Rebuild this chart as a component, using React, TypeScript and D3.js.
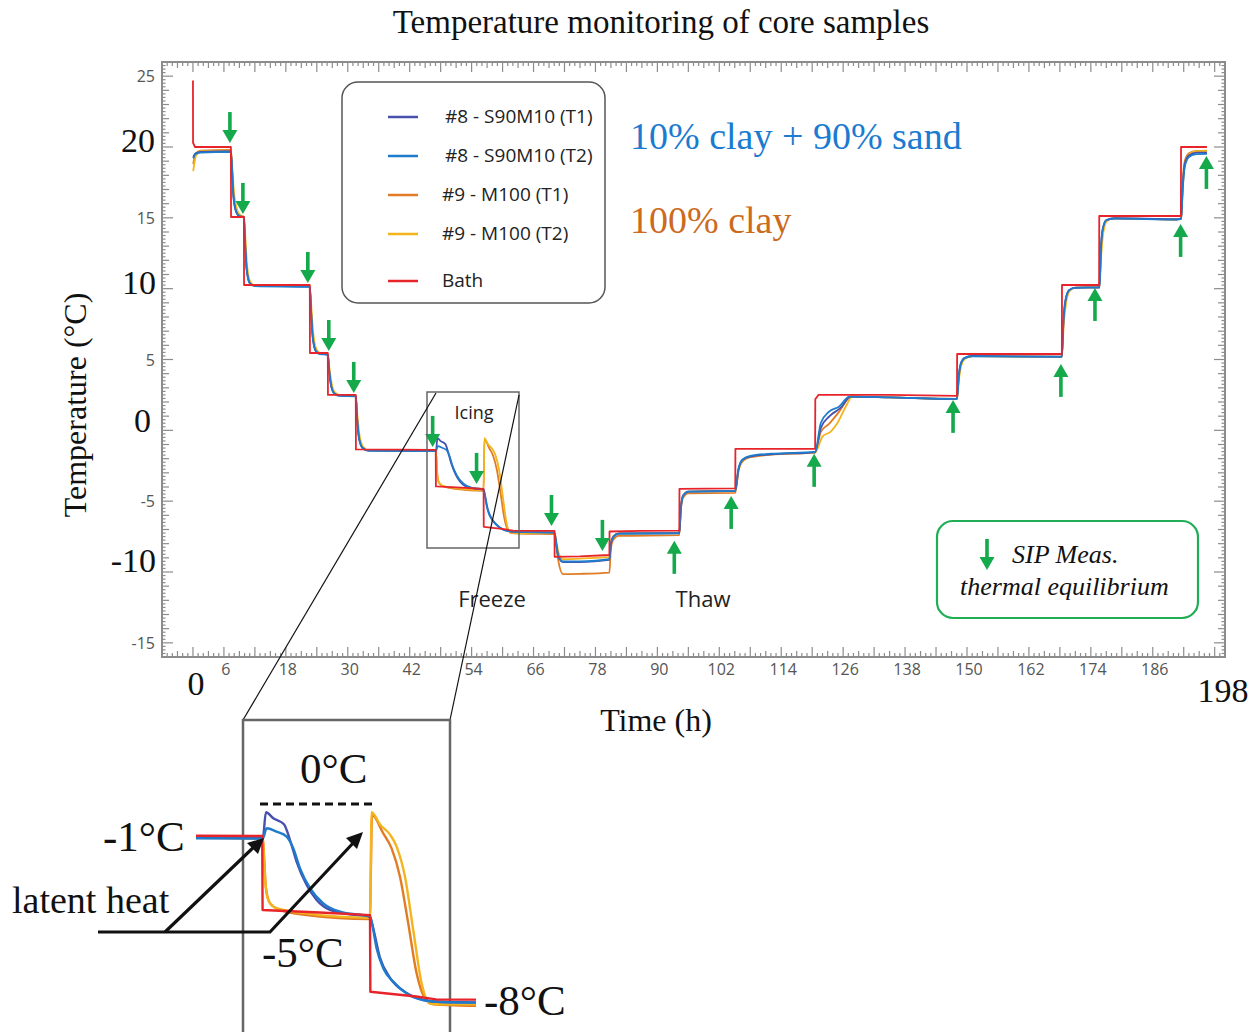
import React from 'react';
import * as d3 from 'd3';

type Pt = [number, number];

// ---------- DATA (time h, temperature °C) ----------
const bath: Pt[] = [
  [0, 24.7], [0.02, 20.3], [0.4, 20.0], [7.35, 20.0],
  [7.38, 15.06], [9.87, 15.06],
  [9.9, 10.26], [22.64, 10.26],
  [22.67, 5.46], [26.13, 5.46],
  [26.16, 2.5], [31.55, 2.5],
  [31.58, -1.35], [47.05, -1.38],
  [47.08, -3.96], [52, -4.05], [56.32, -4.14],
  [56.35, -6.81], [60.3, -6.98], [62, -7.08], [70.06, -7.1],
  [70.09, -8.93], [75, -8.9], [80.7, -8.8],
  [80.73, -7.14], [87, -7.1], [94.25, -7.08],
  [94.28, -4.13], [105.09, -4.1],
  [105.12, -1.31], [120.57, -1.3],
  [120.6, 2.2], [121.2, 2.5], [135, 2.5], [148.06, 2.43],
  [148.09, 5.39], [168.38, 5.39],
  [168.41, 10.26], [175.6, 10.26],
  [175.63, 15.13], [191.45, 15.13],
  [191.48, 20.0], [196.5, 20.0],
];

const s8T1: Pt[] = [
  [0.05, 19.3], [0.5, 19.55], [1.5, 19.65], [7.35, 19.7],
  [7.6, 18.2], [7.85, 16.5], [8.4, 15.4], [9.0, 15.12], [9.87, 15.05],
  [10.1, 13.2], [10.4, 11.4], [11.0, 10.4], [12, 10.2], [22.64, 10.15],
  [22.9, 8.3], [23.2, 6.6], [23.8, 5.6], [24.6, 5.4], [26.13, 5.35],
  [26.4, 4.2], [26.8, 3.1], [27.4, 2.6], [28.5, 2.45], [31.55, 2.42],
  [31.8, 0.9], [32.2, -0.6], [32.9, -1.25], [34, -1.42], [47.1, -1.45],
  [47.37, -0.55], [48.0, -0.76], [48.92, -0.97], [49.44, -1.52], [50.01, -2.28], [50.87, -3.09], [51.73, -3.61], [52.88, -3.96], [54.6, -4.11], [56.32, -4.19],
  [56.46, -4.37], [57.18, -5.63], [58.04, -6.33], [59.47, -6.86], [60.9, -7.1], [62.5, -7.17], [70.06, -7.2],
  [70.4, -8.0], [70.8, -8.9], [71.7, -9.3], [75, -9.3], [80.7, -9.15],
  [81.0, -8.0], [81.5, -7.5], [82.5, -7.28], [94.25, -7.25],
  [94.55, -5.5], [95.0, -4.6], [96, -4.32], [105.09, -4.27],
  [105.7, -2.8], [106.5, -2.1], [108, -1.85], [112, -1.7], [120.57, -1.55],
  [121.67, 0.17], [123.27, 0.97], [125.5, 1.58], [127.5, 2.38], [135, 2.32], [148.06, 2.22],
  [148.4, 3.8], [148.8, 4.7], [149.5, 5.1], [151, 5.25], [168.38, 5.2],
  [168.7, 7.8], [169.1, 9.2], [169.8, 9.9], [171, 10.08], [175.67, 10.1],
  [175.95, 12.8], [176.3, 14.2], [177, 14.85], [178.5, 14.97], [190.6, 14.9], [191.5, 14.95],
  [191.8, 17.2], [192.2, 18.8], [193, 19.4], [194.5, 19.6], [196.5, 19.6],
];

const s8T2: Pt[] = [
  [0.05, 19.2], [0.5, 19.5], [1.5, 19.6], [7.35, 19.65],
  [7.6, 18.2], [7.85, 16.5], [8.4, 15.4], [9.0, 15.1], [9.87, 15.03],
  [10.1, 13.2], [10.4, 11.4], [11.0, 10.38], [12, 10.18], [22.64, 10.12],
  [22.9, 8.3], [23.2, 6.6], [23.8, 5.6], [24.6, 5.38], [26.13, 5.33],
  [26.4, 4.2], [26.8, 3.1], [27.4, 2.58], [28.5, 2.43], [31.55, 2.4],
  [31.8, 0.9], [32.2, -0.6], [32.9, -1.27], [34, -1.44], [47.1, -1.47],
  [47.43, -1.11], [48.29, -1.23], [49.15, -1.4], [49.72, -1.81], [50.3, -2.51], [51.16, -3.2], [52.3, -3.73], [53.74, -4.02], [56.32, -4.19],
  [56.46, -4.37], [56.89, -5.3], [57.46, -5.99], [58.32, -6.46], [59.47, -6.87], [60.9, -7.1], [62.5, -7.17], [70.06, -7.22],
  [70.4, -8.0], [70.8, -8.85], [71.7, -9.26], [75, -9.25], [80.7, -9.1],
  [81.0, -8.0], [81.5, -7.5], [82.5, -7.3], [94.25, -7.27],
  [94.55, -5.5], [95.0, -4.6], [96, -4.33], [105.09, -4.28],
  [105.7, -2.7], [106.5, -2.05], [108, -1.8], [112, -1.65], [120.57, -1.52],
  [121.67, 0.52], [123.27, 1.32], [125.2, 1.67], [127.2, 2.38], [135, 2.33], [148.06, 2.22],
  [148.4, 3.8], [148.8, 4.7], [149.5, 5.1], [151, 5.23], [168.38, 5.18],
  [168.7, 7.8], [169.1, 9.2], [169.8, 9.9], [171, 10.06], [175.67, 10.08],
  [175.95, 12.8], [176.3, 14.2], [177, 14.83], [178.5, 14.95], [190.6, 14.88], [191.5, 14.93],
  [191.8, 17.0], [192.2, 18.6], [193, 19.3], [194.5, 19.5], [196.5, 19.52],
];

const s9T1: Pt[] = [
  [0.05, 18.8], [0.5, 19.5], [1.5, 19.75], [7.35, 19.8],
  [7.6, 18.4], [7.85, 16.7], [8.4, 15.45], [9.0, 15.15], [9.87, 15.08],
  [10.1, 13.4], [10.4, 11.5], [11.0, 10.45], [12, 10.22], [22.64, 10.18],
  [22.9, 8.5], [23.2, 6.8], [23.8, 5.7], [24.6, 5.42], [26.13, 5.37],
  [26.4, 4.3], [26.8, 3.2], [27.4, 2.65], [28.5, 2.47], [31.55, 2.44],
  [31.8, 1.0], [32.2, -0.5], [32.9, -1.22], [34, -1.42], [47.08, -1.46],
  [47.37, -3.2], [47.72, -3.73], [48.58, -3.96], [50.87, -4.14], [56.3, -4.28],
  [56.5, -0.65], [57.46, -1.29], [58.18, -1.81], [58.9, -2.8], [59.61, -4.43], [60.33, -6.17], [60.9, -6.93], [61.76, -7.25], [65, -7.3], [70.06, -7.32],
  [70.3, -7.9], [70.8, -9.2], [71.7, -10.15], [74.9, -10.13], [80.7, -10.04],
  [81.0, -8.3], [81.5, -7.7], [82.5, -7.45], [94.25, -7.4],
  [94.55, -5.6], [95, -4.75], [96, -4.45], [105.09, -4.42],
  [105.7, -2.9], [106.5, -2.2], [108, -1.9], [112, -1.72], [120.57, -1.58],
  [121.67, -0.1], [123.27, 0.45], [125.2, 1.3], [127.5, 2.37], [135, 2.33], [148.06, 2.2],
  [148.4, 3.7], [148.8, 4.6], [149.5, 5.05], [151, 5.24], [168.38, 5.2],
  [168.7, 7.6], [169.1, 9.0], [169.8, 9.85], [171, 10.08], [175.67, 10.1],
  [175.95, 12.5], [176.3, 14.0], [177, 14.8], [178.5, 14.96], [190.6, 14.88], [191.5, 14.95],
  [191.8, 17.5], [192.2, 19.0], [193, 19.55], [194.5, 19.72], [196.5, 19.75],
];

const s9T2: Pt[] = [
  [0.05, 18.3], [0.6, 19.4], [1.5, 19.7], [7.35, 19.75],
  [7.6, 18.6], [7.9, 17.0], [8.5, 15.6], [9.1, 15.2], [9.87, 15.08],
  [10.15, 13.6], [10.5, 11.6], [11.1, 10.5], [12, 10.22], [22.64, 10.18],
  [22.95, 8.6], [23.3, 6.9], [23.9, 5.75], [24.7, 5.43], [26.13, 5.37],
  [26.45, 4.35], [26.9, 3.25], [27.5, 2.68], [28.5, 2.48], [31.55, 2.44],
  [31.85, 1.1], [32.3, -0.4], [33, -1.18], [34, -1.4], [47.08, -1.46],
  [47.31, -2.97], [47.57, -3.61], [48.29, -3.9], [50.87, -4.08], [56.32, -4.23],
  [56.46, -0.55], [57.18, -0.98], [58.04, -1.33], [58.61, -1.75], [59.33, -2.8], [60.04, -4.66], [60.76, -6.52], [61.47, -7.22], [62.6, -7.25], [70.06, -7.26],
  [70.4, -7.8], [70.9, -8.7], [71.7, -9.1], [75, -9.05], [80.7, -8.95],
  [81.0, -7.9], [81.5, -7.45], [82.5, -7.28], [94.25, -7.25],
  [94.55, -5.4], [95, -4.6], [96, -4.32], [105.09, -4.27],
  [105.7, -2.9], [106.5, -2.15], [108, -1.85], [112, -1.7], [120.57, -1.55],
  [122.0, -0.44], [123.6, -0.09], [124.9, 0.52], [126.5, 1.67], [127.8, 2.38], [135, 2.33], [148.06, 2.22],
  [148.45, 3.6], [148.9, 4.6], [149.6, 5.05], [151, 5.24], [168.38, 5.18],
  [168.75, 7.5], [169.2, 9.0], [169.9, 9.85], [171, 10.07], [175.67, 10.1],
  [176.0, 12.3], [176.4, 13.9], [177.1, 14.78], [178.5, 14.96], [190.6, 14.88], [191.5, 14.95],
  [191.85, 17.3], [192.3, 18.9], [193.1, 19.5], [194.5, 19.7], [196.5, 19.72],
];

const seriesNames = ['#8 - S90M10 (T1)', '#8 - S90M10 (T2)', '#9 - M100 (T1)', '#9 - M100 (T2)', 'Bath'];
const seriesColors = ['#4650ad', '#1f7bcb', '#e27c24', '#f3b41e', '#e8242b'];
const seriesData = [s8T1, s8T2, s9T1, s9T2, bath];
const drawOrder = [2, 3, 0, 1, 4];

// SIP measurement arrow tips (time h, temperature °C)
const sipDown: Pt[] = [
  [7.16, 20.28], [9.68, 15.27], [22.26, 10.4], [26.32, 5.6], [31.16, 2.64],
  [46.45, -1.17], [54.96, -3.78], [69.48, -6.75], [79.35, -8.51],
];
const sipUp: Pt[] = [
  [93.28, -7.8], [104.3, -4.63], [120.38, -1.66], [147.3, 2.15],
  [168.2, 4.69], [174.8, 10.05], [191.4, 14.57], [196.4, 19.37],
];

const xTickLabels = [6, 18, 30, 42, 54, 66, 78, 90, 102, 114, 126, 138, 150, 162, 174, 186];
const yTickLabels = [25, 15, 5, -5, -15];

const SERIF = '"Liberation Serif", "Times New Roman", serif';
const SANS = '"Open Sans", "Noto Sans", sans-serif';
const GREEN = '#14a94b';
const AXC = '#8c8c8c';

function DownArrow({ px, py }: { px: number; py: number }) {
  return (
    <g>
      <line x1={px} y1={py - 31} x2={px} y2={py - 10} stroke={GREEN} strokeWidth={3.6} />
      <path d={`M${px - 7.5},${py - 13} L${px + 7.5},${py - 13} L${px},${py} Z`} fill={GREEN} />
    </g>
  );
}
function UpArrow({ px, py }: { px: number; py: number }) {
  return (
    <g>
      <line x1={px} y1={py + 33} x2={px} y2={py + 10} stroke={GREEN} strokeWidth={3.6} />
      <path d={`M${px - 7.5},${py + 13} L${px + 7.5},${py + 13} L${px},${py} Z`} fill={GREEN} />
    </g>
  );
}

export default function App() {
  const x = d3.scaleLinear().domain([-6, 200]).range([162, 1225]);
  const y = d3.scaleLinear().domain([-16, 26]).range([657, 62]);
  const xi = d3.scaleLinear().domain([47.03, 56.32]).range([262, 370]);
  const yi = d3.scaleLinear().domain([-1.38, -7.1]).range([836, 1000]);

  const mainLine = (i: number) =>
    d3.line<Pt>().x(p => x(p[0])).y(p => y(p[1]))
      .curve(i === 4 ? d3.curveLinear : d3.curveMonotoneX)(seriesData[i]) || '';
  const insetLine = (i: number) =>
    d3.line<Pt>().x(p => xi(p[0])).y(p => yi(p[1]))
      .curve(i === 4 ? d3.curveLinear : d3.curveMonotoneX)(seriesData[i]) || '';

  const X0 = 162, X1 = 1225, Y0 = 62, Y1 = 657;
  const yMinor = d3.range(-16, 26.001, 0.25);
  const xMinor = d3.range(-6, 200.001, 1);
  const near = (v: number, m: number) => Math.abs(v / m - Math.round(v / m)) < 1e-6;
  const yLen = (v: number) => (near(v, 5) ? 11 : near(v, 1) ? 7 : 3.5);
  const xLen = (v: number) => (near(v, 6) ? 10 : near(v, 3) ? 6 : 4);

  const legendY = [117, 156, 195, 234, 281];

  return (
    <div style={{ position: 'absolute', left: 0, top: 0 }}>
      <svg width={1258} height={1032} style={{ display: 'block', background: '#fff' }}>
        <defs>
          <clipPath id="plotClip"><rect x={X0} y={Y0} width={X1 - X0} height={Y1 - Y0} /></clipPath>
          <clipPath id="insetClip"><rect x={196} y={760} width={280} height={272} /></clipPath>
        </defs>
        {/* title */}
        <text x={661} y={33} textAnchor="middle" fontFamily={SERIF} fontSize={33} fill="#111">Temperature monitoring of core samples</text>

        {/* axes ticks */}
        <g stroke={AXC} strokeWidth={1.2}>
          {yMinor.map((v, i) => (
            <g key={'y' + i}>
              <line x1={X0} x2={X0 + yLen(v)} y1={y(v)} y2={y(v)} />
              <line x1={X1} x2={X1 - yLen(v)} y1={y(v)} y2={y(v)} />
            </g>
          ))}
          {xMinor.map((v, i) => (
            <g key={'x' + i}>
              <line x1={x(v)} x2={x(v)} y1={Y1} y2={Y1 - xLen(v)} />
              <line x1={x(v)} x2={x(v)} y1={Y0} y2={Y0 + xLen(v)} />
            </g>
          ))}
        </g>
        <rect x={X0} y={Y0} width={X1 - X0} height={Y1 - Y0} fill="none" stroke={AXC} strokeWidth={2} />

        {/* tick labels */}
        {yTickLabels.map(v => (
          <text key={'yl' + v} x={155} y={y(v) + 6} textAnchor="end" fontFamily={SANS} fontSize={16} fill="#555">{v}</text>
        ))}
        {xTickLabels.map(v => (
          <text key={'xl' + v} x={x(v) + 2} y={675} textAnchor="middle" fontFamily={SANS} fontSize={16} fill="#555">{v}</text>
        ))}
        {/* big overlay labels */}
        <g fontFamily={SERIF} fontSize={34} fill="#111" textAnchor="end">
          <text x={155} y={152}>20</text>
          <text x={156} y={294}>10</text>
          <text x={151} y={432}>0</text>
          <text x={156} y={572}>-10</text>
        </g>
        <text x={196} y={695} textAnchor="middle" fontFamily={SERIF} fontSize={34} fill="#111">0</text>
        <text x={1223} y={702} textAnchor="middle" fontFamily={SERIF} fontSize={34} fill="#111">198</text>

        {/* axis titles */}
        <text x={656} y={731} textAnchor="middle" fontFamily={SERIF} fontSize={32} fill="#111">Time (h)</text>
        <text transform="translate(86,405) rotate(-90)" textAnchor="middle" fontFamily={SERIF} fontSize={32} fill="#111">Temperature (°C)</text>

        {/* data */}
        <g clipPath="url(#plotClip)" fill="none" strokeWidth={1.8} strokeLinejoin="round">
          {drawOrder.map(i => (
            <path key={'s' + i} d={mainLine(i)} stroke={seriesColors[i]} />
          ))}
        </g>

        {/* SIP arrows */}
        {sipDown.map((p, i) => <DownArrow key={'d' + i} px={x(p[0])} py={y(p[1])} />)}
        {sipUp.map((p, i) => <UpArrow key={'u' + i} px={x(p[0])} py={y(p[1])} />)}

        {/* legend */}
        <rect x={342} y={82} width={263} height={221} rx={16} fill="none" stroke="#555" strokeWidth={1.5} />
        {seriesNames.map((n, i) => (
          <g key={'lg' + i}>
            <line x1={388} x2={418} y1={legendY[i]} y2={legendY[i]} stroke={seriesColors[i]} strokeWidth={2.5} />
            <text x={i < 2 ? 445 : 442} y={legendY[i] + 6} fontFamily={SANS} fontSize={19} fill="#222">{n}</text>
          </g>
        ))}
        <text x={630} y={149} fontFamily={SERIF} fontSize={38} fill="#1a7bd0">10% clay + 90% sand</text>
        <text x={630} y={233} fontFamily={SERIF} fontSize={38} fill="#cc6a1e">100% clay</text>

        {/* icing box */}
        <rect x={427} y={392} width={92} height={156} fill="none" stroke="#666" strokeWidth={1.5} />
        <text x={474} y={419} textAnchor="middle" fontFamily={SANS} fontSize={18} fill="#222">Icing</text>
        <text x={492} y={607} textAnchor="middle" fontFamily={SANS} fontSize={22} fill="#222">Freeze</text>
        <text x={703} y={607} textAnchor="middle" fontFamily={SANS} fontSize={22} fill="#222">Thaw</text>

        {/* connectors */}
        <line x1={436} y1={393} x2={243} y2={720} stroke="#111" strokeWidth={1.2} />
        <line x1={519} y1={395} x2={450} y2={720} stroke="#111" strokeWidth={1.2} />

        {/* SIP legend box */}
        <rect x={937} y={521} width={261} height={97} rx={16} fill="none" stroke="#1fae55" strokeWidth={2.2} />
        <DownArrow px={987} py={570} />
        <text x={1012} y={563} fontFamily={SERIF} fontStyle="italic" fontSize={26} fill="#111">SIP Meas.</text>
        <text x={960} y={595} fontFamily={SERIF} fontStyle="italic" fontSize={26} fill="#111">thermal equilibrium</text>

        {/* inset */}
        <rect x={243} y={720} width={207} height={330} fill="none" stroke="#666" strokeWidth={2.5} />
        <g clipPath="url(#insetClip)" fill="none" strokeWidth={2.4} strokeLinejoin="round">
          {drawOrder.map(i => (
            <path key={'i' + i} d={insetLine(i)} stroke={seriesColors[i]} />
          ))}
        </g>
        <line x1={260} x2={373} y1={804} y2={804} stroke="#111" strokeWidth={3} strokeDasharray="8,5" />
        <g fontFamily={SERIF} fontSize={43} fill="#111">
          <text x={300} y={783}>0°C</text>
          <text x={103} y={851}>-1°C</text>
          <text x={262} y={967}>-5°C</text>
          <text x={484} y={1015}>-8°C</text>
        </g>
        <text x={12} y={913} fontFamily={SERIF} fontSize={38} fill="#111">latent heat</text>
        <g stroke="#111" strokeWidth={3.2} fill="none">
          <polyline points="98,932 270,932 355,841" />
          <line x1={165} y1={932} x2={256} y2={845} />
        </g>
        <path d="M363,832 L346,838 L357,849 Z" fill="#111" />
        <path d="M264,838 L247,843 L258,854 Z" fill="#111" />
      </svg>
    </div>
  );
}
